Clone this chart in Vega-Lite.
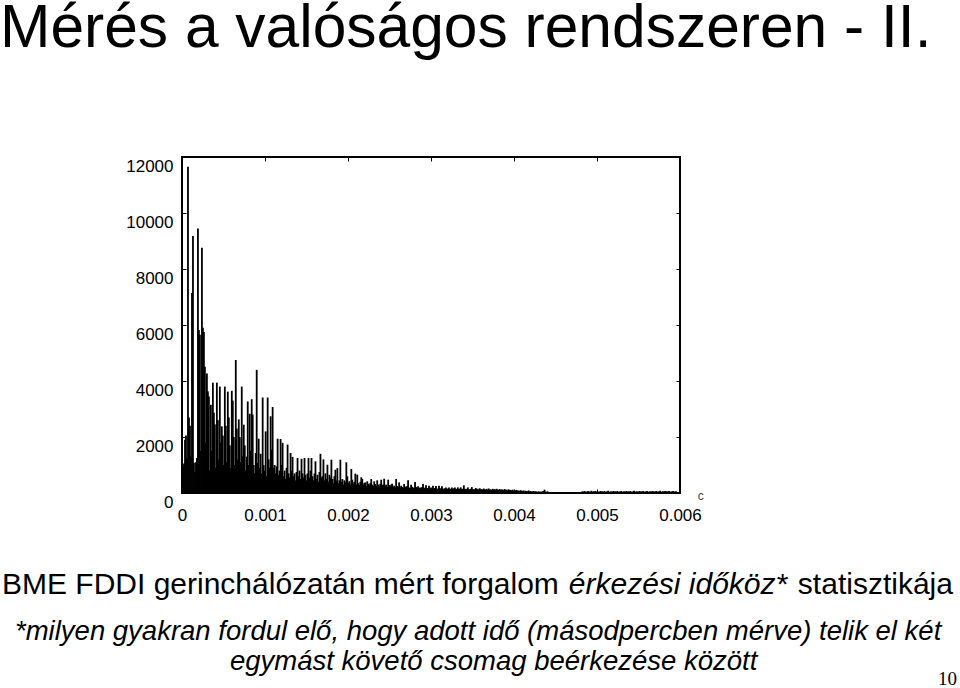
{
  "$schema": "https://vega.github.io/schema/vega-lite/v6.json",
  "autosize": {"type": "none"},
  "padding": {"left": 182, "top": 157, "right": 280, "bottom": 195},
  "width": 498,
  "height": 336,
  "background": "white",
  "data": {"values": [
    {"us":0,"n":700},{"us":12,"n":950},{"us":24,"n":1050},{"us":36,"n":1900},{"us":48,"n":2050},{"us":60,"n":1250},{"us":72,"n":11650},{"us":84,"n":2700},{"us":96,"n":2400},{"us":108,"n":1300},
    {"us":120,"n":7140},{"us":132,"n":9175},{"us":144,"n":1080},{"us":156,"n":750},{"us":168,"n":1100},{"us":180,"n":1250},{"us":192,"n":9450},{"us":204,"n":5820},{"us":216,"n":5650},{"us":228,"n":1500},
    {"us":240,"n":8757},{"us":252,"n":5900},{"us":264,"n":5750},{"us":276,"n":4510},{"us":288,"n":1800},{"us":300,"n":4270},{"us":312,"n":3630},{"us":324,"n":3450},{"us":336,"n":800},{"us":348,"n":3150},
    {"us":360,"n":1500},{"us":372,"n":3940},{"us":384,"n":2870},{"us":396,"n":2450},{"us":408,"n":900},{"us":420,"n":3940},{"us":432,"n":2600},{"us":444,"n":1200},{"us":456,"n":3800},{"us":468,"n":1800},
    {"us":480,"n":2380},{"us":492,"n":2050},{"us":504,"n":1000},{"us":516,"n":3800},{"us":528,"n":2400},{"us":540,"n":1100},{"us":552,"n":3620},{"us":564,"n":2700},{"us":576,"n":1700},{"us":588,"n":900},
    {"us":600,"n":3650},{"us":612,"n":3300},{"us":624,"n":2000},{"us":636,"n":1000},{"us":648,"n":4750},{"us":660,"n":2300},{"us":672,"n":1200},{"us":684,"n":2630},{"us":696,"n":2000},{"us":708,"n":1100},
    {"us":720,"n":3800},{"us":732,"n":1310},{"us":744,"n":2440},{"us":756,"n":1700},{"us":768,"n":800},{"us":780,"n":1300},{"us":792,"n":3270},{"us":804,"n":1000},{"us":816,"n":2830},{"us":828,"n":1500},
    {"us":840,"n":3350},{"us":852,"n":2800},{"us":864,"n":1000},{"us":876,"n":700},{"us":888,"n":1430},{"us":900,"n":4400},{"us":912,"n":1070},{"us":924,"n":1940},{"us":936,"n":900},{"us":948,"n":1400},
    {"us":960,"n":700},{"us":972,"n":3410},{"us":984,"n":1000},{"us":996,"n":800},{"us":1008,"n":2200},{"us":1020,"n":600},{"us":1032,"n":3410},{"us":1044,"n":1200},{"us":1056,"n":900},{"us":1068,"n":2740},
    {"us":1080,"n":1550},{"us":1092,"n":3070},{"us":1104,"n":900},{"us":1116,"n":1000},{"us":1128,"n":700},{"us":1140,"n":950},{"us":1152,"n":1940},{"us":1164,"n":650},{"us":1176,"n":800},{"us":1188,"n":1930},
    {"us":1200,"n":1000},{"us":1212,"n":1790},{"us":1224,"n":600},{"us":1236,"n":800},{"us":1248,"n":500},{"us":1260,"n":900},{"us":1272,"n":1730},{"us":1284,"n":700},{"us":1296,"n":550},{"us":1308,"n":1430},
    {"us":1320,"n":800},{"us":1332,"n":1290},{"us":1344,"n":600},{"us":1356,"n":700},{"us":1368,"n":450},{"us":1380,"n":750},{"us":1392,"n":1250},{"us":1404,"n":600},{"us":1416,"n":800},{"us":1428,"n":500},
    {"us":1440,"n":1220},{"us":1452,"n":700},{"us":1464,"n":550},{"us":1476,"n":1250},{"us":1488,"n":650},{"us":1500,"n":450},{"us":1512,"n":700},{"us":1524,"n":1250},{"us":1536,"n":550},{"us":1548,"n":800},
    {"us":1560,"n":1250},{"us":1572,"n":600},{"us":1584,"n":450},{"us":1596,"n":700},{"us":1608,"n":1130},{"us":1620,"n":500},{"us":1632,"n":650},{"us":1644,"n":400},{"us":1656,"n":750},{"us":1668,"n":1400},
    {"us":1680,"n":550},{"us":1692,"n":600},{"us":1704,"n":1200},{"us":1716,"n":450},{"us":1728,"n":700},{"us":1740,"n":500},{"us":1752,"n":1010},{"us":1764,"n":400},{"us":1776,"n":650},{"us":1788,"n":550},
    {"us":1800,"n":1190},{"us":1812,"n":500},{"us":1824,"n":350},{"us":1836,"n":600},{"us":1848,"n":830},{"us":1860,"n":450},{"us":1872,"n":890},{"us":1884,"n":350},{"us":1896,"n":450},{"us":1908,"n":1190},
    {"us":1920,"n":400},{"us":1932,"n":500},{"us":1944,"n":300},{"us":1956,"n":450},{"us":1968,"n":380},{"us":1980,"n":1095},{"us":1992,"n":595},{"us":2004,"n":350},{"us":2016,"n":420},{"us":2028,"n":300},
    {"us":2040,"n":857},{"us":2052,"n":476},{"us":2064,"n":330},{"us":2076,"n":400},{"us":2088,"n":690},{"us":2100,"n":300},{"us":2112,"n":655},{"us":2124,"n":350},{"us":2136,"n":280},{"us":2148,"n":400},
    {"us":2160,"n":560},{"us":2172,"n":500},{"us":2184,"n":300},{"us":2196,"n":350},{"us":2208,"n":380},{"us":2220,"n":250},{"us":2232,"n":417},{"us":2244,"n":330},{"us":2256,"n":280},{"us":2268,"n":350},
    {"us":2280,"n":500},{"us":2292,"n":300},{"us":2304,"n":250},{"us":2316,"n":417},{"us":2328,"n":320},{"us":2340,"n":260},{"us":2352,"n":452},{"us":2364,"n":300},{"us":2376,"n":230},{"us":2388,"n":330},
    {"us":2400,"n":476},{"us":2412,"n":280},{"us":2424,"n":300},{"us":2436,"n":510},{"us":2448,"n":250},{"us":2460,"n":300},{"us":2472,"n":220},{"us":2484,"n":476},{"us":2496,"n":280},{"us":2508,"n":240},
    {"us":2520,"n":300},{"us":2532,"n":333},{"us":2544,"n":220},{"us":2556,"n":260},{"us":2568,"n":200},{"us":2580,"n":500},{"us":2592,"n":250},{"us":2604,"n":230},{"us":2616,"n":380},{"us":2628,"n":200},
    {"us":2640,"n":260},{"us":2652,"n":220},{"us":2664,"n":180},{"us":2676,"n":321},{"us":2688,"n":230},{"us":2700,"n":200},{"us":2712,"n":250},{"us":2724,"n":452},{"us":2736,"n":200},{"us":2748,"n":180},
    {"us":2760,"n":297},{"us":2772,"n":220},{"us":2784,"n":170},{"us":2796,"n":200},{"us":2808,"n":393},{"us":2820,"n":210},{"us":2832,"n":180},{"us":2844,"n":238},{"us":2856,"n":160},{"us":2868,"n":200},
    {"us":2880,"n":180},{"us":2892,"n":210},{"us":2904,"n":321},{"us":2916,"n":170},{"us":2928,"n":190},{"us":2940,"n":280},{"us":2952,"n":160},{"us":2964,"n":180},{"us":2976,"n":260},{"us":2988,"n":150},
    {"us":3000,"n":200},{"us":3012,"n":170},{"us":3024,"n":260},{"us":3036,"n":150},{"us":3048,"n":180},{"us":3060,"n":250},{"us":3072,"n":160},{"us":3084,"n":140},{"us":3096,"n":260},{"us":3108,"n":170},
    {"us":3120,"n":150},{"us":3132,"n":240},{"us":3144,"n":160},{"us":3156,"n":130},{"us":3168,"n":170},{"us":3180,"n":200},{"us":3192,"n":140},{"us":3204,"n":160},{"us":3216,"n":200},{"us":3228,"n":130},
    {"us":3240,"n":150},{"us":3252,"n":200},{"us":3264,"n":140},{"us":3276,"n":170},{"us":3288,"n":200},{"us":3300,"n":130},{"us":3312,"n":150},{"us":3324,"n":200},{"us":3336,"n":140},{"us":3348,"n":160},
    {"us":3360,"n":200},{"us":3372,"n":130},{"us":3384,"n":150},{"us":3396,"n":274},{"us":3408,"n":140},{"us":3420,"n":150},{"us":3432,"n":130},{"us":3444,"n":200},{"us":3456,"n":140},{"us":3468,"n":120},
    {"us":3480,"n":150},{"us":3492,"n":210},{"us":3504,"n":130},{"us":3516,"n":140},{"us":3528,"n":120},{"us":3540,"n":180},{"us":3552,"n":130},{"us":3564,"n":150},{"us":3576,"n":120},{"us":3588,"n":170},
    {"us":3600,"n":120},{"us":3612,"n":140},{"us":3624,"n":110},{"us":3636,"n":160},{"us":3648,"n":120},{"us":3660,"n":130},{"us":3672,"n":150},{"us":3684,"n":110},{"us":3696,"n":160},{"us":3708,"n":120},
    {"us":3720,"n":130},{"us":3732,"n":110},{"us":3744,"n":150},{"us":3756,"n":120},{"us":3768,"n":140},{"us":3780,"n":100},{"us":3792,"n":150},{"us":3804,"n":120},{"us":3816,"n":110},{"us":3828,"n":140},
    {"us":3840,"n":100},{"us":3852,"n":130},{"us":3864,"n":120},{"us":3876,"n":100},{"us":3888,"n":140},{"us":3900,"n":110},{"us":3912,"n":120},{"us":3924,"n":90},{"us":3936,"n":130},{"us":3948,"n":100},
    {"us":3960,"n":110},{"us":3972,"n":90},{"us":3984,"n":120},{"us":3996,"n":80},{"us":4008,"n":100},{"us":4020,"n":90},{"us":4032,"n":110},{"us":4044,"n":80},{"us":4056,"n":90},{"us":4068,"n":70},
    {"us":4080,"n":100},{"us":4092,"n":80},{"us":4104,"n":70},{"us":4116,"n":90},{"us":4128,"n":60},{"us":4140,"n":80},{"us":4152,"n":70},{"us":4164,"n":60},{"us":4176,"n":90},{"us":4188,"n":60},
    {"us":4200,"n":70},{"us":4212,"n":50},{"us":4224,"n":60},{"us":4236,"n":70},{"us":4248,"n":50},{"us":4260,"n":60},{"us":4272,"n":50},{"us":4284,"n":40},{"us":4296,"n":60},{"us":4308,"n":40},
    {"us":4320,"n":50},{"us":4332,"n":40},{"us":4344,"n":60},{"us":4356,"n":70},{"us":4368,"n":120},{"us":4380,"n":50},{"us":4392,"n":40},{"us":4404,"n":60},{"us":4416,"n":30},{"us":4428,"n":20},
    {"us":4824,"n":60},{"us":4836,"n":40},{"us":4848,"n":70},{"us":4860,"n":50},{"us":4872,"n":40},{"us":4884,"n":60},{"us":4896,"n":70},{"us":4908,"n":40},{"us":4920,"n":50},{"us":4932,"n":80},
    {"us":4944,"n":40},{"us":4956,"n":60},{"us":4968,"n":50},{"us":4980,"n":70},{"us":4992,"n":40},{"us":5004,"n":60},{"us":5016,"n":50},{"us":5028,"n":40},{"us":5040,"n":70},{"us":5052,"n":50},
    {"us":5064,"n":60},{"us":5076,"n":40},{"us":5088,"n":70},{"us":5100,"n":50},{"us":5112,"n":40},{"us":5124,"n":60},{"us":5136,"n":80},{"us":5148,"n":40},{"us":5160,"n":50},{"us":5172,"n":60},
    {"us":5184,"n":40},{"us":5196,"n":70},{"us":5208,"n":50},{"us":5220,"n":60},{"us":5232,"n":40},{"us":5244,"n":70},{"us":5256,"n":50},{"us":5268,"n":40},{"us":5280,"n":60},{"us":5292,"n":70},
    {"us":5304,"n":40},{"us":5316,"n":50},{"us":5328,"n":60},{"us":5340,"n":40},{"us":5352,"n":70},{"us":5364,"n":50},{"us":5376,"n":60},{"us":5388,"n":40},{"us":5400,"n":70},{"us":5412,"n":50},
    {"us":5424,"n":40},{"us":5436,"n":60},{"us":5448,"n":80},{"us":5460,"n":40},{"us":5472,"n":50},{"us":5484,"n":60},{"us":5496,"n":40},{"us":5508,"n":70},{"us":5520,"n":50},{"us":5532,"n":60},
    {"us":5544,"n":40},{"us":5556,"n":70},{"us":5568,"n":50},{"us":5580,"n":40},{"us":5592,"n":60},{"us":5604,"n":70},{"us":5616,"n":40},{"us":5628,"n":50},{"us":5640,"n":60},{"us":5652,"n":40},
    {"us":5664,"n":70},{"us":5676,"n":50},{"us":5688,"n":60},{"us":5700,"n":40},{"us":5712,"n":70},{"us":5724,"n":50},{"us":5736,"n":40},{"us":5748,"n":60},{"us":5760,"n":80},{"us":5772,"n":40},
    {"us":5784,"n":50},{"us":5796,"n":60},{"us":5808,"n":40},{"us":5820,"n":70},{"us":5832,"n":50},{"us":5844,"n":60},{"us":5856,"n":40},{"us":5868,"n":70},{"us":5880,"n":50},{"us":5892,"n":40},
    {"us":5904,"n":60},{"us":5916,"n":70},{"us":5928,"n":40},{"us":5940,"n":50},{"us":5952,"n":60}
  ]},
  "layer": [
    {
      "mark": {"type": "rule", "color": "black", "strokeWidth": 1.8},
      "encoding": {
        "x": {"field": "us", "type": "quantitative", "scale": {"domain": [0, 6000], "nice": false},
          "axis": {"title": null, "values": [0, 1000, 2000, 3000, 4000, 5000, 6000], "labelExpr": "datum.value == 0 ? '0' : format(datum.value / 1000000, '.3f')",
            "ticks": false, "domain": false, "grid": false, "labelFlush": false, "labelPadding": 14, "labelFont": "Liberation Sans", "labelFontSize": 17, "labelColor": "black"}},
        "y": {"field": "n", "type": "quantitative", "scale": {"domain": [0, 12000], "nice": false},
          "axis": {"title": null, "values": [0, 2000, 4000, 6000, 8000, 10000, 12000], "format": "d",
            "ticks": false, "domain": false, "grid": false, "labelBaseline": "top", "labelOffset": 1, "labelPadding": 9, "labelFont": "Liberation Sans", "labelFontSize": 17, "labelColor": "black"}},
        "y2": {"datum": 0}
      }
    },
    {
      "mark": {"type": "point", "opacity": 0},
      "encoding": {
        "x": {"field": "us", "type": "quantitative", "axis": {"orient": "top", "values": [1000, 2000, 3000, 4000, 5000], "labels": false, "domain": false, "grid": false, "title": null, "tickSize": 4, "offset": -4, "tickColor": "black"}},
        "y": {"field": "n", "type": "quantitative", "axis": {"orient": "right", "values": [2000, 4000, 6000, 8000, 10000], "labels": false, "domain": false, "grid": false, "title": null, "tickSize": 4, "offset": -4, "tickColor": "black"}}
      }
    },
    {
      "mark": {"type": "point", "opacity": 0},
      "encoding": {
        "x": {"field": "us", "type": "quantitative", "axis": {"orient": "bottom", "values": [1000, 2000, 3000, 4000, 5000], "labels": false, "domain": false, "grid": false, "title": null, "tickSize": 4, "offset": -4, "tickColor": "black"}},
        "y": {"field": "n", "type": "quantitative", "axis": {"orient": "left", "values": [2000, 4000, 6000, 8000, 10000], "labels": false, "domain": false, "grid": false, "title": null, "tickSize": 4, "offset": -4, "tickColor": "black"}}
      }
    },
    {
      "data": {"values": [{"s": "Mérés a valóságos rendszeren - II."}]},
      "mark": {"type": "text", "align": "left", "baseline": "alphabetic", "font": "Liberation Sans", "fontSize": 60.5, "color": "black"},
      "encoding": {"text": {"field": "s"}, "x": {"datum": -2193, "type": "quantitative", "axis": null}, "y": {"datum": 15930, "type": "quantitative", "axis": null}}
    },
    {
      "data": {"values": [{"s": "BME FDDI gerinchálózatán mért forgalom"}]},
      "mark": {"type": "text", "align": "left", "baseline": "alphabetic", "font": "Liberation Sans", "fontSize": 30, "color": "black"},
      "encoding": {"text": {"field": "s"}, "x": {"datum": -2169, "type": "quantitative", "axis": null}, "y": {"datum": -3607, "type": "quantitative", "axis": null}}
    },
    {
      "data": {"values": [{"s": "érkezési időköz*"}]},
      "mark": {"type": "text", "align": "left", "baseline": "alphabetic", "font": "Liberation Sans", "fontSize": 30, "fontStyle": "italic", "color": "black"},
      "encoding": {"text": {"field": "s"}, "x": {"datum": 4660, "type": "quantitative", "axis": null}, "y": {"datum": -3607, "type": "quantitative", "axis": null}}
    },
    {
      "data": {"values": [{"s": "statisztikája"}]},
      "mark": {"type": "text", "align": "left", "baseline": "alphabetic", "font": "Liberation Sans", "fontSize": 30, "color": "black"},
      "encoding": {"text": {"field": "s"}, "x": {"datum": 7420, "type": "quantitative", "axis": null}, "y": {"datum": -3607, "type": "quantitative", "axis": null}}
    },
    {
      "data": {"values": [{"s": "*milyen gyakran fordul elő, hogy adott idő (másodpercben mérve) telik el két"}]},
      "mark": {"type": "text", "align": "left", "baseline": "alphabetic", "font": "Liberation Sans", "fontSize": 27.5, "fontStyle": "italic", "color": "black"},
      "encoding": {"text": {"field": "s"}, "x": {"datum": -2012, "type": "quantitative", "axis": null}, "y": {"datum": -5250, "type": "quantitative", "axis": null}}
    },
    {
      "data": {"values": [{"s": "egymást követő csomag beérkezése között"}]},
      "mark": {"type": "text", "align": "left", "baseline": "alphabetic", "font": "Liberation Sans", "fontSize": 27.5, "fontStyle": "italic", "color": "black"},
      "encoding": {"text": {"field": "s"}, "x": {"datum": 578, "type": "quantitative", "axis": null}, "y": {"datum": -6321, "type": "quantitative", "axis": null}}
    },
    {
      "data": {"values": [{"s": "10"}]},
      "mark": {"type": "text", "align": "left", "baseline": "alphabetic", "font": "Liberation Serif", "fontSize": 19, "color": "black"},
      "encoding": {"text": {"field": "s"}, "x": {"datum": 9108, "type": "quantitative", "axis": null}, "y": {"datum": -6860, "type": "quantitative", "axis": null}}
    },
    {
      "data": {"values": [{"s": "c"}]},
      "mark": {"type": "text", "align": "left", "baseline": "middle", "font": "Liberation Sans", "fontSize": 12, "color": "#444444"},
      "encoding": {"text": {"field": "s"}, "x": {"datum": 6215, "type": "quantitative", "axis": null}, "y": {"datum": -110, "type": "quantitative", "axis": null}}
    }
  ],
  "resolve": {"axis": {"x": "independent", "y": "independent"}},
  "config": {"view": {"stroke": "black", "strokeWidth": 2}}
}
